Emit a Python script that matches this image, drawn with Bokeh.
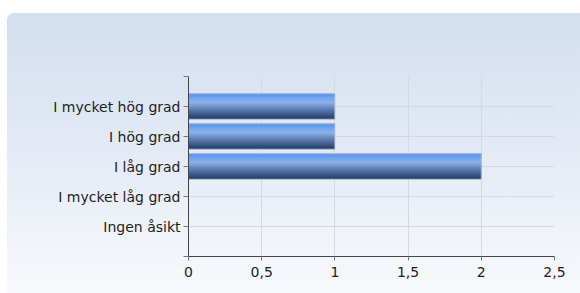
from bokeh.plotting import figure
from bokeh.models import FixedTicker, Range1d
from bokeh.embed import file_html
from bokeh.resources import INLINE
import numpy as np

# ---- data ----
categories = ["I mycket hög grad", "I hög grad", "I låg grad", "I mycket låg grad", "Ingen åsikt"]
values = [1, 1, 2, 0, 0]
x_ticks = [0, 0.5, 1, 1.5, 2, 2.5]
x_tick_labels = ["0", "0,5", "1", "1,5", "2", "2,5"]

n = len(categories)
positions = np.arange(n, 0, -1)  # top category highest

p = figure(width=573, height=280, output_backend="svg", toolbar_location=None,
           x_range=Range1d(0, 2.5), y_range=Range1d(0, n + 1),
           min_border_left=181, min_border_right=26, min_border_top=63, min_border_bottom=37)
p.margin = (13, 0, 0, 7)
p.styles = {"background": "linear-gradient(to bottom, #d3dfef 0%, #e2e9f4 45%, #f8f9fc 100%)",
            "border-top-left-radius": "7px"}
p.border_fill_alpha = 0
p.background_fill_alpha = 0
p.outline_line_color = None

# gradient bars: nested bars sharing the top edge, drawn bottom colour first
bar_h = 0.85
stops = [(0.0, (0x4f, 0x8e, 0xec)), (0.15, (0x6e, 0xa5, 0xf1)), (0.35, (0x8c, 0xb1, 0xe6)),
         (0.6, (0x5c, 0x7e, 0xb4)), (1.0, (0x21, 0x3a, 0x63))]

def color_at(t):
    for (t0, c0), (t1, c1) in zip(stops[:-1], stops[1:]):
        if t0 <= t <= t1:
            f = (t - t0) / (t1 - t0)
            c = [int(round(a + (b - a) * f)) for a, b in zip(c0, c1)]
            return "#%02x%02x%02x" % tuple(c)
    return "#%02x%02x%02x" % stops[-1][1]

N = 26
strip = bar_h / N
tops = positions + bar_h / 2
for k in range(N - 1, -1, -1):
    hk = (k + 1) * strip
    p.hbar(y=tops - hk / 2, right=values, left=0, height=hk,
           fill_color=color_at((k + 0.5) / N), line_color=None)
p.hbar(y=positions, right=values, left=0, height=bar_h, fill_color=None, line_color="#b4c1d6", line_width=1)

# axes
p.xaxis.ticker = FixedTicker(ticks=x_ticks)
p.xaxis.major_label_overrides = {t: l for t, l in zip(x_ticks, x_tick_labels)}
p.yaxis.ticker = FixedTicker(ticks=list(range(0, n + 2)))
ylab = {0: "", n + 1: ""}
for pos, c in zip(positions, categories):
    ylab[int(pos)] = c
p.yaxis.major_label_overrides = ylab

for ax in (p.xaxis[0], p.yaxis[0]):
    ax.axis_line_color = "#444444"
    ax.major_tick_line_color = "#777777"
    ax.major_tick_in = 0
    ax.minor_tick_line_color = None
    ax.major_label_text_font = "DejaVu Sans"
    ax.major_label_text_font_size = "14px"
    ax.major_label_text_color = "#1e1e1e"
p.yaxis.major_tick_out = 5
p.yaxis.major_label_standoff = 3
p.xaxis.major_tick_out = 4
p.xaxis.major_label_standoff = 6

p.xgrid.ticker = FixedTicker(ticks=x_ticks)
p.xgrid.grid_line_color = "#d3d9e2"
p.ygrid.grid_line_color = "#d3d9e2"

open("out.html", "w").write(file_html(p, INLINE))
